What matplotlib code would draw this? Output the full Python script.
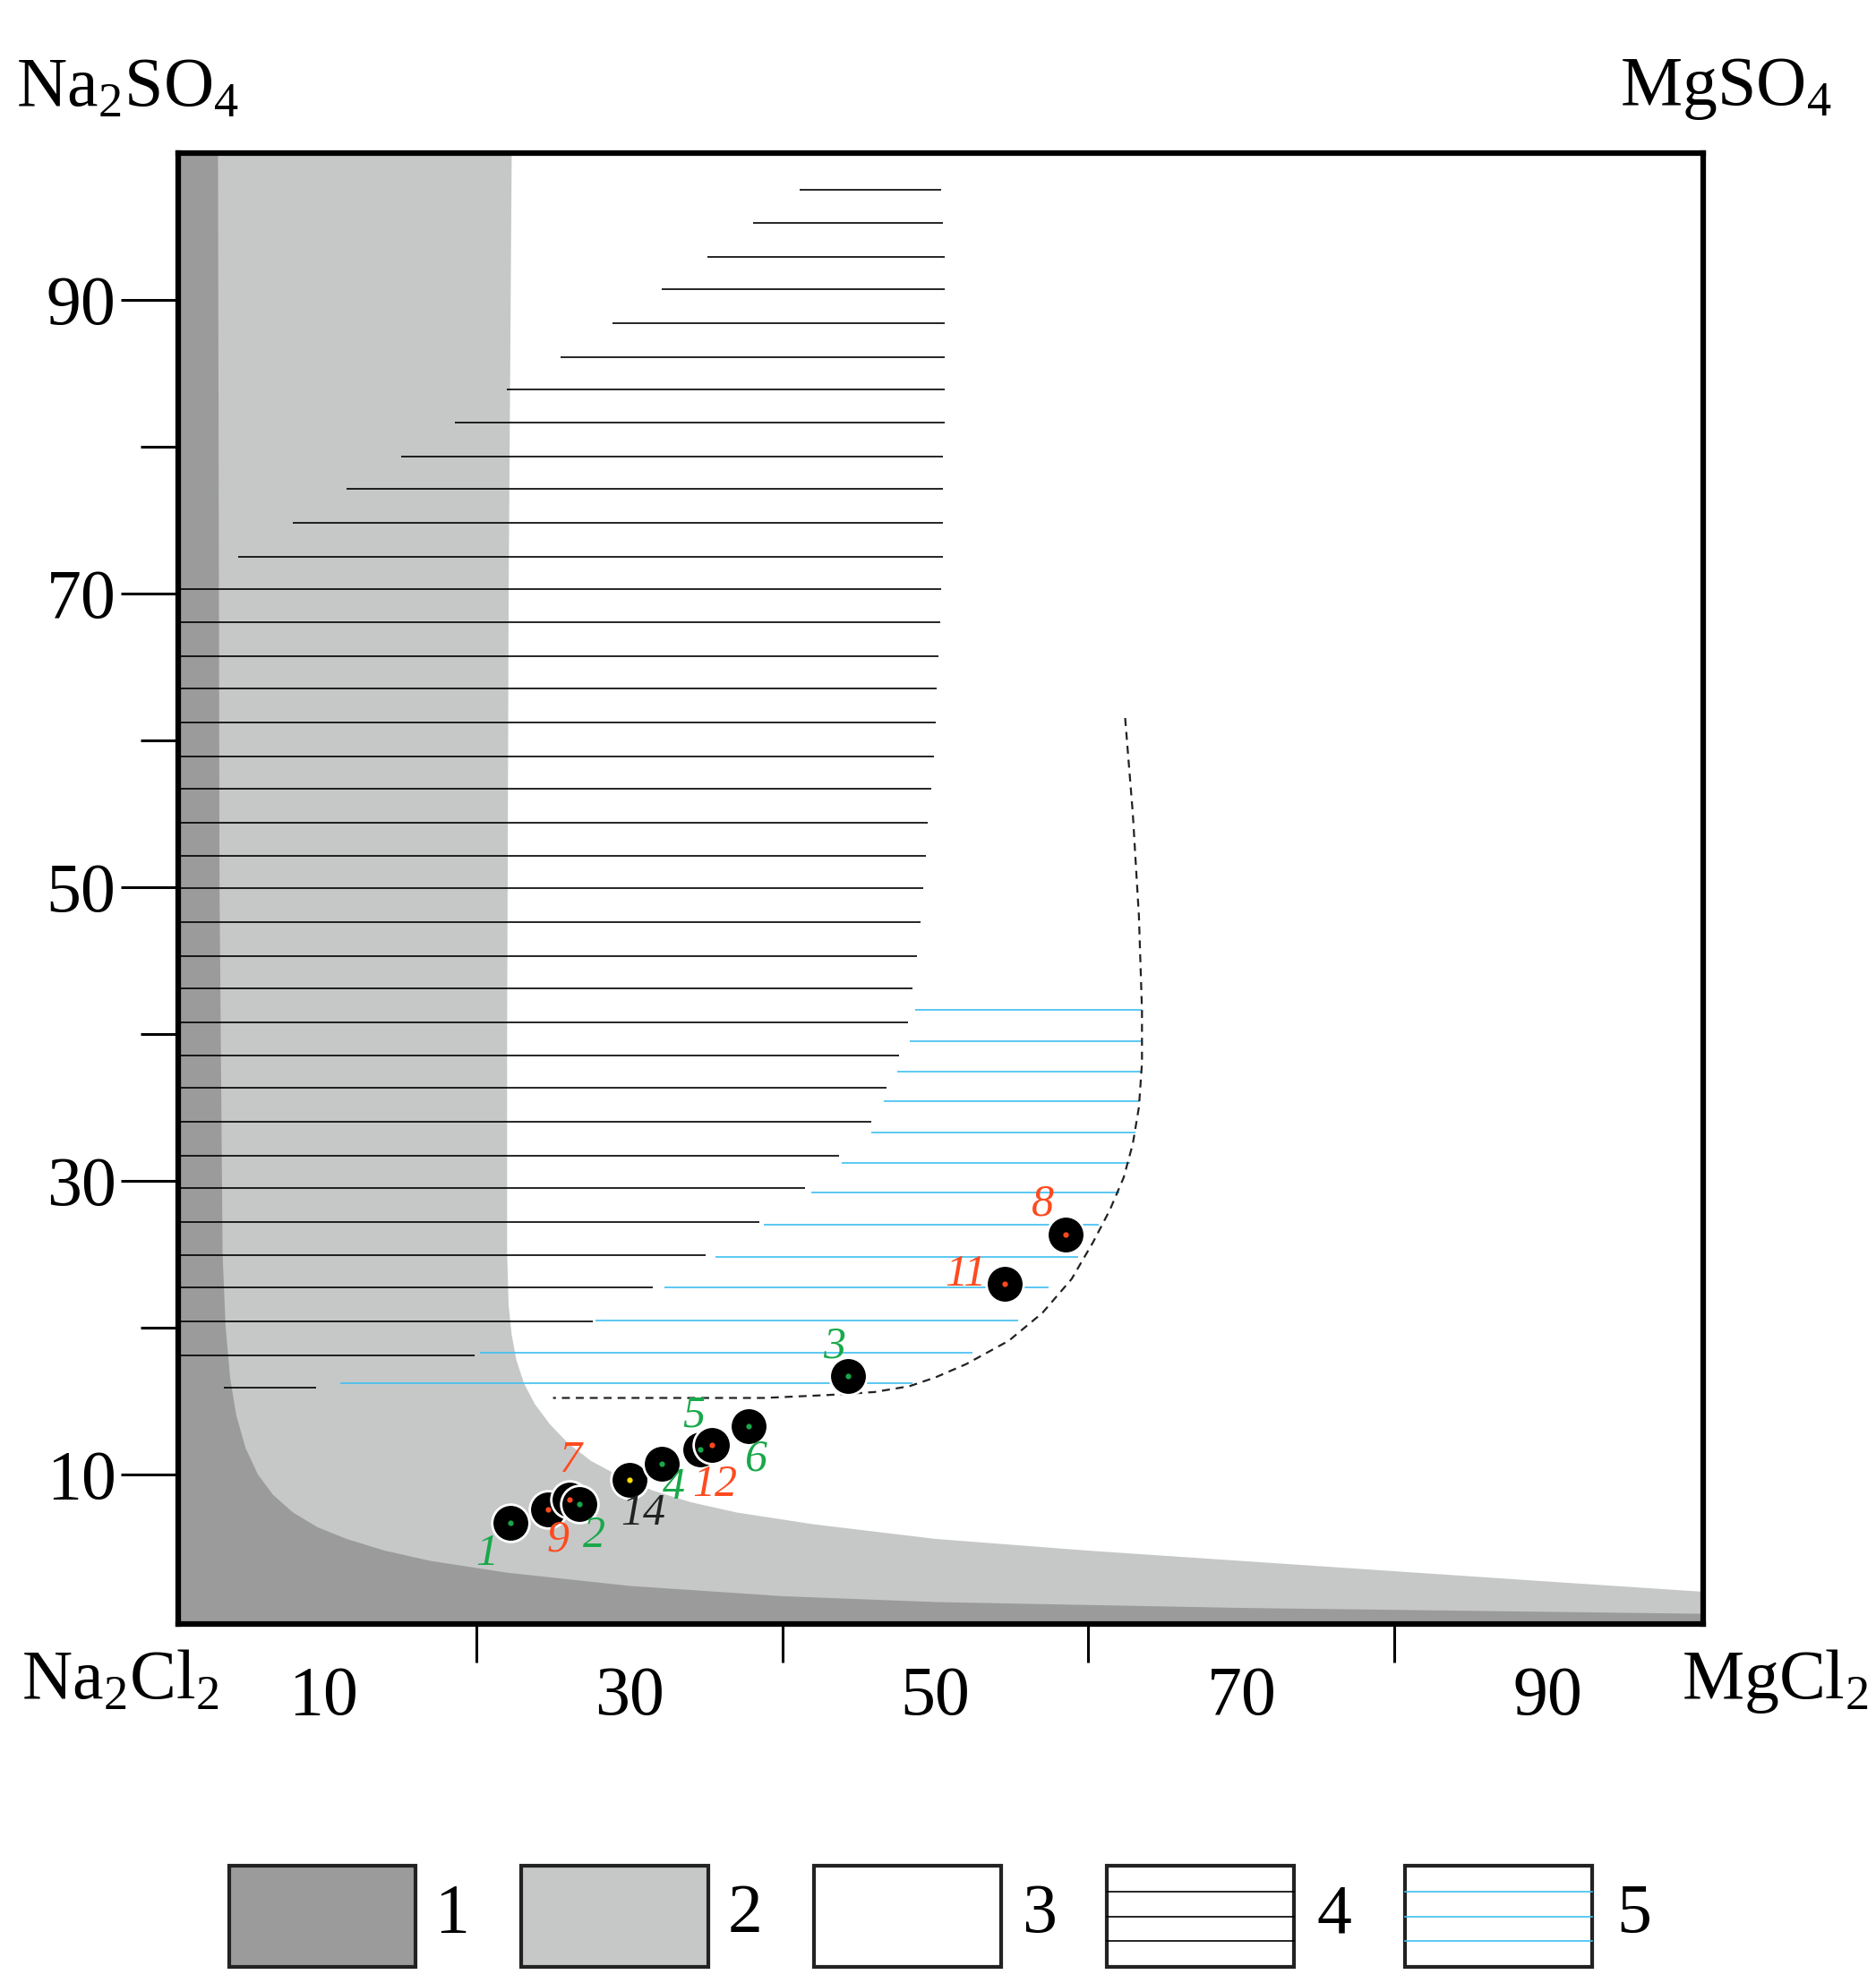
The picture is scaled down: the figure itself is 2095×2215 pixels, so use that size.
import matplotlib.pyplot as plt
from matplotlib.patches import Polygon, Rectangle
from matplotlib.transforms import blended_transform_factory

SERIF = ['Liberation Serif', 'DejaVu Serif']
plt.rcParams['font.family'] = SERIF
plt.rcParams['mathtext.fontset'] = 'custom'
plt.rcParams['mathtext.rm'] = 'Liberation Serif'

# region boundaries
light_x = [22.3, 22.1, 22.0, 22.0, 22.1, 22.3, 22.6, 23.1, 23.8, 24.8, 26.0, 27.5, 29.3,
           31.5, 34, 37, 42, 50, 60, 70, 80, 90, 100.2]
light_y = [100, 70, 40, 25, 21.5, 19.5, 17.8, 16.2, 14.8, 13.4, 12.1, 10.9, 9.9,
           8.9, 8.1, 7.4, 6.6, 5.6, 4.8, 4.1, 3.4, 2.7, 2.0]
dark_x = [3.1, 3.2, 3.4, 3.6, 3.9, 4.3, 4.9, 5.7, 6.7, 8.0, 9.6, 11.5, 14, 17, 22, 30,
          40, 50, 70, 100.2]
dark_y = [100, 50, 25, 20, 16.5, 14, 11.8, 10.0, 8.6, 7.4, 6.4, 5.6, 4.8, 4.1, 3.3, 2.4,
          1.7, 1.3, 0.9, 0.5]

# black hatching (field 4)
black_y = [97.5, 95.2, 92.9, 90.7, 88.4, 86.1, 83.9, 81.6, 79.3, 77.1, 74.8, 72.5, 70.3, 68.0,
           65.7, 63.5, 61.2, 58.9, 56.7, 54.4, 52.1, 49.9, 47.6, 45.3, 43.1, 40.8, 38.5, 36.3,
           34.0, 31.7, 29.5, 27.2, 24.9, 22.7, 20.4, 18.1, 15.9]
black_x0 = [41.1, 38.1, 35.1, 32.1, 28.9, 25.5, 22.0, 18.6, 15.1, 11.5, 8.0, 4.4] + [0.6] * 24 + [3.5]
black_x1 = [50.4, 50.5, 50.6, 50.6, 50.6, 50.6, 50.6, 50.6, 50.5, 50.5, 50.5, 50.5, 50.4, 50.3,
            50.2, 50.1, 50.0, 49.9, 49.7, 49.5, 49.4, 49.2, 49.0, 48.8, 48.5, 48.2, 47.6, 46.8,
            45.8, 43.7, 41.5, 38.5, 35.0, 31.5, 27.6, 19.9, 9.5]

# blue hatching (field 5)
blue_y = [41.6, 39.5, 37.4, 35.4, 33.3, 31.2, 29.2, 27.0, 24.8, 22.7, 20.5, 18.3, 16.2]
blue_x0 = [48.7, 48.3, 47.5, 46.6, 45.8, 43.9, 41.9, 38.8, 35.6, 32.3, 27.8, 20.2, 11.1]
blue_x1 = [63.5, 63.5, 63.4, 63.3, 63.1, 62.7, 62.0, 60.7, 59.3, 57.4, 55.4, 52.4, 48.5]

# dashed boundary
dash_x = [62.4, 62.9, 63.3, 63.5, 63.5, 63.3, 62.9, 62.3, 61.4, 60.3, 58.9, 57.0, 54.8,
          52.0, 50.0, 48.3, 46, 43, 38.8, 32, 25.0]
dash_y = [61.5, 55, 48, 41.6, 38, 35, 32.5, 30.2, 28.0, 25.8, 23.3, 21.0, 19.1,
          17.5, 16.6, 16.0, 15.6, 15.4, 15.2, 15.2, 15.2]

# samples
pt_id = ['1', '9', '7', '2', '14', '4', '5', '12', '6', '3', '11', '8']
pt_x = [22.2, 24.7, 26.1, 26.7, 30.0, 32.1, 34.6, 35.4, 37.8, 44.3, 54.5, 58.5]
pt_y = [6.7, 7.6, 8.3, 8.0, 9.6, 10.7, 11.7, 12.0, 13.3, 16.7, 23.0, 26.3]
pt_grp = ['g', 'r', 'r', 'g', 'k', 'g', 'g', 'r', 'g', 'g', 'r', 'r']
lab_dx = [-1.5, 0.6, 0.0, 1.0, 0.9, 0.8, -0.4, 0.2, 0.5, -0.9, -2.5, -1.5]
lab_dy = [-2.1, -2.1, 2.6, -2.2, -2.3, -1.6, 2.3, -2.7, -2.3, 2.0, 0.6, 2.1]

GREEN, RED, BLUE = '#19a84a', '#ff4a1f', '#3fbff0'
txt_col = {'g': GREEN, 'r': RED, 'k': '#222222'}
dot_col = {'g': GREEN, 'r': RED, 'k': '#ffe000'}

fig = plt.figure(figsize=(20.95, 22.15), dpi=100)
ax = fig.add_axes([0.095, 0.181, 0.813, 0.742])
xmin, xmax, ymin, ymax = 0.5, 100.2, -0.2, 100
ax.set_xlim(xmin, xmax)
ax.set_ylim(ymin, ymax)

ax.add_patch(Polygon(list(zip(light_x, light_y)) + [(xmax, ymin), (xmin, ymin), (xmin, ymax)],
                     closed=True, fc='#c6c8c8', ec='none', zorder=0))
ax.add_patch(Polygon(list(zip(dark_x, dark_y)) + [(xmax, ymin), (xmin, ymin), (xmin, ymax)],
                     closed=True, fc='#9b9b9b', ec='none', zorder=0.5))

ax.hlines(black_y, black_x0, black_x1, color='black', lw=1.2, zorder=1)
ax.hlines(blue_y, blue_x0, blue_x1, color=BLUE, lw=1.2, zorder=1)
ax.plot(dash_x, dash_y, color='#222222', ls=(0, (4, 3)), lw=1.6, zorder=2)

for i in range(len(pt_id)):
    g = pt_grp[i]
    ax.scatter(pt_x[i], pt_y[i], s=900, c='black', edgecolors='white', linewidths=2, zorder=3)
    ax.scatter(pt_x[i], pt_y[i], s=12, c=dot_col[g], zorder=4)
    ax.text(pt_x[i] + lab_dx[i], pt_y[i] + lab_dy[i], pt_id[i], color=txt_col[g], fontsize=36,
            style='italic', ha='center', va='center', zorder=5)

for s in ax.spines.values():
    s.set_linewidth(4.5)

ax.set_yticks([10, 30, 50, 70, 90])
ax.set_yticks([20, 40, 60, 80], minor=True)
ax.tick_params(axis='y', which='major', length=46, width=2.2, labelsize=56, pad=4)
ax.tick_params(axis='y', which='minor', length=30, width=2.2)
ax.set_xticks([20, 40, 60, 80])
ax.tick_params(axis='x', which='major', length=31, width=2.2, labelbottom=False)

tr = blended_transform_factory(ax.transData, ax.transAxes)
for v in [10, 30, 50, 70, 90]:
    ax.text(v, -0.05, str(v), transform=tr, fontsize=56, ha='center', va='center')

fig.text(0.068, 0.955, 'Na$_2$SO$_4$', fontsize=56, ha='center', va='center')
fig.text(0.92, 0.955, 'MgSO$_4$', fontsize=56, ha='center', va='center')
fig.text(0.064, 0.152, 'Na$_2$Cl$_2$', fontsize=56, ha='center', va='center')
fig.text(0.946, 0.152, 'MgCl$_2$', fontsize=56, ha='center', va='center')

# legend
leg_fc = ['#9b9b9b', '#c6c8c8', 'white', 'white', 'white']
leg_x = [0.122, 0.278, 0.434, 0.590, 0.749]
lab_x = [0.241, 0.397, 0.554, 0.711, 0.871]
for i in range(5):
    fig.patches.append(Rectangle((leg_x[i], 0.008), 0.0995, 0.051, transform=fig.transFigure,
                                 fc=leg_fc[i], ec='#222222', lw=3))
    if i >= 3:
        c = 'black' if i == 3 else BLUE
        for yy in [0.021, 0.0335, 0.046]:
            fig.lines.append(plt.Line2D([leg_x[i], leg_x[i] + 0.0995], [yy, yy],
                                        transform=fig.transFigure, color=c, lw=1.2))
    fig.text(lab_x[i], 0.034, str(i + 1), fontsize=56, ha='center', va='center')

fig.savefig('out.png', dpi=100)
